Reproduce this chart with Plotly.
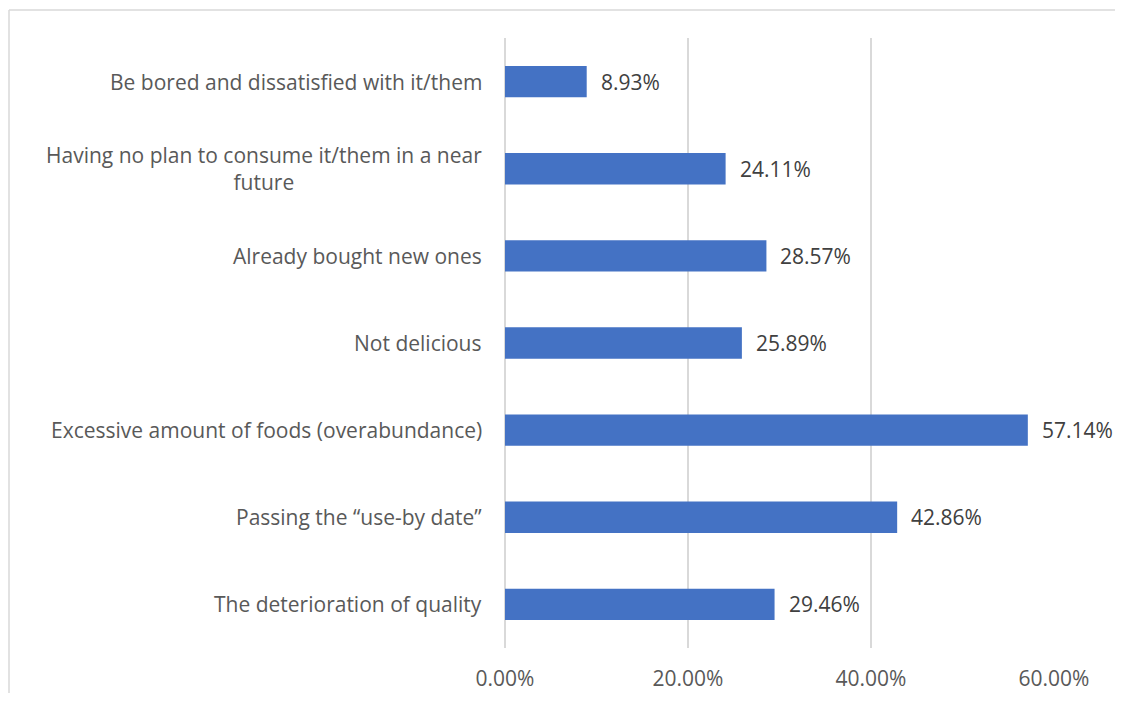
import plotly.graph_objects as go

categories = [
    "Be bored and dissatisfied with it/them",
    "Having no plan to consume it/them in a near<br>future",
    "Already bought new ones",
    "Not delicious",
    "Excessive amount of foods (overabundance)",
    "Passing the \u201cuse-by date\u201d",
    "The deterioration of quality",
]
values = [0.0893, 0.2411, 0.2857, 0.2589, 0.5714, 0.4286, 0.2946]
tick_vals = [0, 0.2, 0.4, 0.6]
tick_text = ["0.00%", "20.00%", "40.00%", "60.00%"]

FONT = "Open Sans"
FS = 21
OFF = 8  # default page body margin
W, H = 1123 - 2 * OFF, 701 - 2 * OFF
L, T = 505 - OFF, 38 - OFF
R = W - (1054 - OFF)
B = H - (648 - OFF)
pw = W - L - R
ph = H - T - B

fig = go.Figure(go.Bar(
    x=values, y=categories, orientation="h",
    marker=dict(color="#4472C4", line=dict(width=0)),
    width=0.36,
    hoverinfo="skip",
))

annotations = []
for c, v in zip(categories, values):
    annotations.append(dict(x=v, y=c, xref="x", yref="y", text=f"{v*100:.2f}%",
                            showarrow=False, xanchor="left", xshift=12,
                            font=dict(family=FONT, size=FS, color="#404040")))
    annotations.append(dict(x=0, y=c, xref="x", yref="y", text=c, align="center",
                            showarrow=False, xanchor="right", xshift=-21,
                            font=dict(family=FONT, size=FS, color="#595959")))

bx0 = (1 - L) / pw
bx1 = (W - L) / pw
by0 = (-40 - B) / ph
by1 = (H - (10 - OFF) - B) / ph
border = dict(color="#d9d9d9", width=1.5)

fig.update_layout(
    width=W, height=H,
    margin=dict(l=L, r=R, t=T, b=B, pad=0),
    paper_bgcolor="white", plot_bgcolor="white",
    showlegend=False,
    annotations=annotations,
    xaxis=dict(range=[0, 0.6], tickvals=tick_vals, ticktext=tick_text,
               automargin=False,
               showgrid=True, gridcolor="#d9d9d9", gridwidth=1.5,
               zeroline=True, zerolinecolor="#d9d9d9", zerolinewidth=1.5,
               showline=False, ticks="", ticklabelstandoff=16,
               tickfont=dict(family=FONT, size=FS, color="#595959")),
    yaxis=dict(autorange="reversed", showticklabels=False, showgrid=False,
               automargin=False,
               zeroline=False, showline=False, ticks=""),
    shapes=[
        dict(type="line", xref="paper", yref="paper", x0=bx0, x1=bx0, y0=by0, y1=by1,
             line=border, layer="below"),
        dict(type="line", xref="paper", yref="paper", x0=bx0, x1=bx1, y0=by1, y1=by1,
             line=border, layer="below"),
    ],
)

fig.write_html("out.html")
